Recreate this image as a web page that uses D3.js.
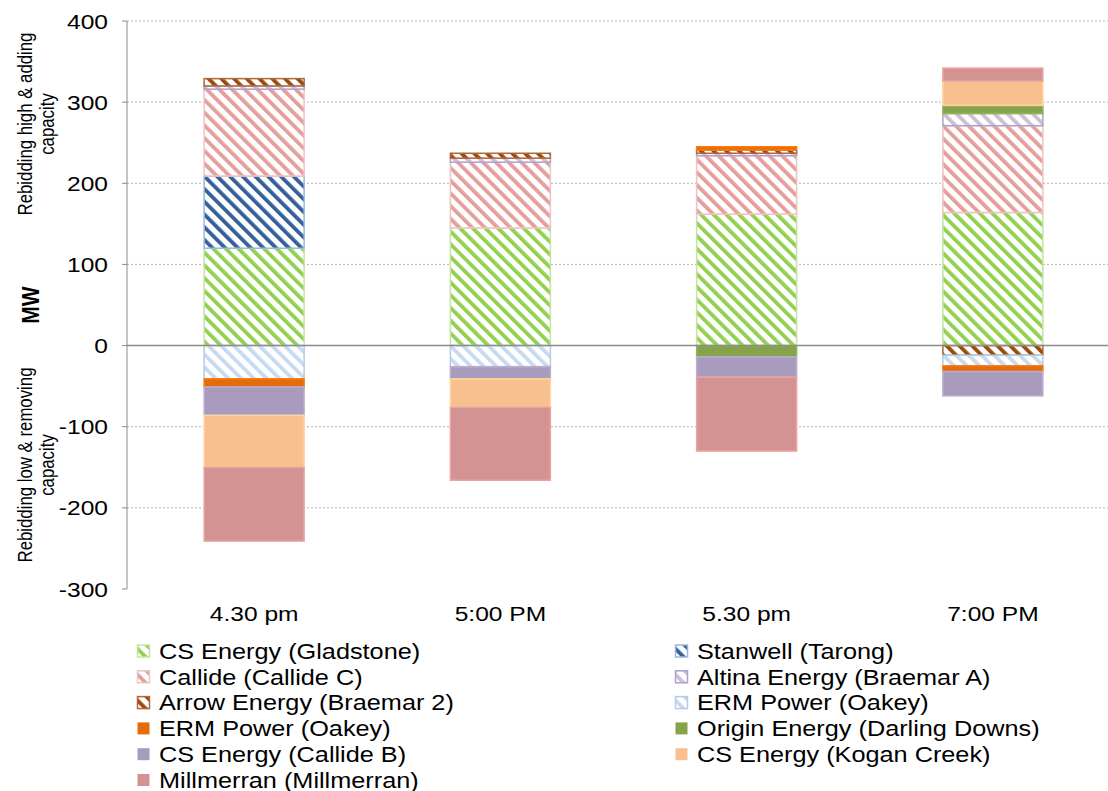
<!DOCTYPE html>
<html>
<head>
<meta charset="utf-8">
<script src="https://cdn.jsdelivr.net/npm/d3@7"></script>
<style>
  body { margin: 0; background: #fff; }
  svg { display: block; font-family: Arial, "Liberation Sans", sans-serif; }
</style>
</head>
<body>
<svg id="chart" width="1108" height="791"></svg>
<script>
const categories = ['4.30 pm', '5:00 PM', '5.30 pm', '7:00 PM']
const yTicks = [-300, -200, -100, 0, 100, 200, 300, 400]

// MW per period
const gladstone   = [120, 145, 162, 164]
const tarong      = [89, 0, 0, 0]
const callideC    = [107, 81, 72, 107]
const braemarA    = [4, 5, 3, 15]
const braemar2    = [9, 6, 4, -12]
const oakeyHatch  = [-41, -26, 0, -13]
const oakeySolid  = [-10, 0, 4, -7]
const darling     = [0, 0, -14, 10]
const callideB    = [-35, -15, -25, -30]
const kogan       = [-64, -35, 0, 30]
const millmerran  = [-91, -90, -91, 16]

const seriesNames = [
  'CS Energy (Gladstone)', 'Stanwell (Tarong)', 'Callide (Callide C)',
  'Altina Energy (Braemar A)', 'Arrow Energy (Braemar 2)', 'ERM Power (Oakey)',
  'ERM Power (Oakey)', 'Origin Energy (Darling Downs)', 'CS Energy (Callide B)',
  'CS Energy (Kogan Creek)', 'Millmerran (Millmerran)'
]
const seriesValues = [gladstone, tarong, callideC, braemarA, braemar2, oakeyHatch,
  oakeySolid, darling, callideB, kogan, millmerran]

// fill styles: hatch = striped pattern with a border
const styles = [
  { hatch: true, color: '#92d050', border: '#c6e2a6' },
  { hatch: true, color: '#34609a', border: '#9bb8dc' },
  { hatch: true, color: '#e49e9c', border: '#efc3c2' },
  { hatch: true, color: '#cbbfdc', border: '#b1a0cb' },
  { hatch: true, color: '#9a4a0c', border: '#b0683a' },
  { hatch: true, color: '#c7daf1', border: '#b6cbe6' },
  { hatch: false, color: '#e46c0a' },
  { hatch: false, color: '#86a24a' },
  { hatch: false, color: '#a99bbe' },
  { hatch: false, color: '#f9c08f' },
  { hatch: false, color: '#d39392' }
]

const sx = 1.17   // the original is a little wider than tall

const svg = d3.select('#chart')

const x = d3.scaleBand().domain(categories).range([131, 1116])
const y = d3.scaleLinear().domain([-300, 400]).range([589, 21])
const barW = 100
const plotLeft = 127, plotRight = 1108

// patterns
const defs = svg.append('defs')
styles.forEach((s, i) => {
  if (!s.hatch) return
  const p = defs.append('pattern')
    .attr('id', 'hatch' + i)
    .attr('patternUnits', 'userSpaceOnUse')
    .attr('width', 9).attr('height', 9)
    .attr('patternTransform', 'rotate(-45)')
  p.append('rect').attr('width', 9).attr('height', 9).attr('fill', '#fff')
  p.append('rect').attr('width', 3.8).attr('height', 9).attr('fill', s.color)
})
const fillOf = i => styles[i].hatch ? `url(#hatch${i})` : styles[i].color
const strokeOf = i => styles[i].hatch ? styles[i].border : d3.color(styles[i].color).brighter(0.3)

// gridlines
svg.append('g')
  .selectAll('line')
  .data(yTicks.filter(d => d !== 0 && d !== -300))
  .join('line')
  .attr('x1', plotLeft).attr('x2', plotRight)
  .attr('y1', d => y(d)).attr('y2', d => y(d))
  .attr('stroke', '#b4b4b4')
  .attr('stroke-dasharray', '2,2')

// y axis
svg.append('line')
  .attr('x1', plotLeft).attr('x2', plotLeft)
  .attr('y1', y(400)).attr('y2', y(-300))
  .attr('stroke', '#8c8c8c')
svg.append('g')
  .selectAll('line')
  .data(yTicks)
  .join('line')
  .attr('x1', plotLeft - 5).attr('x2', plotLeft)
  .attr('y1', d => y(d)).attr('y2', d => y(d))
  .attr('stroke', '#8c8c8c')

const tickLabels = svg.append('g')
  .selectAll('g')
  .data(yTicks)
  .join('g')
  .attr('transform', d => `translate(108,${y(d) + 7.5}) scale(${sx},1)`)
tickLabels.append('text')
  .attr('text-anchor', 'end')
  .attr('font-size', 21)
  .attr('fill', '#000')
  .text(d => d)

// stacked bars
const rows = categories.map((c, j) => {
  const r = { cat: c }
  seriesValues.forEach((v, i) => { r['s' + i] = v[j] })
  return r
})
const keys = seriesValues.map((v, i) => 's' + i)
const stacked = d3.stack().keys(keys).offset(d3.stackOffsetDiverging)(rows)

stacked.forEach((layer, i) => {
  svg.append('g')
    .selectAll('rect')
    .data(layer.filter(d => d[1] - d[0] !== 0))
    .join('rect')
    .attr('x', d => x(d.data.cat) + (x.bandwidth() - barW) / 2)
    .attr('width', barW)
    .attr('y', d => y(Math.max(d[0], d[1])))
    .attr('height', d => Math.abs(y(d[0]) - y(d[1])))
    .attr('fill', fillOf(i))
    .attr('stroke', strokeOf(i))
    .attr('stroke-width', 1.5)
})

// zero line
svg.append('line')
  .attr('x1', plotLeft).attr('x2', plotRight)
  .attr('y1', y(0)).attr('y2', y(0))
  .attr('stroke', '#8c8c8c')
  .attr('stroke-width', 1.5)

// x labels
svg.append('g')
  .selectAll('g')
  .data(categories)
  .join('g')
  .attr('transform', d => `translate(${x(d) + x.bandwidth() / 2},621) scale(${sx},1)`)
  .append('text')
  .attr('text-anchor', 'middle')
  .attr('font-size', 21)
  .text(d => d)

// axis titles
const rotText = (cx, cy, lines, size, weight, gap) => {
  const g = svg.append('g')
    .attr('transform', `translate(${cx},${cy}) scale(${sx},1) rotate(-90)`)
  lines.forEach((t, k) => {
    g.append('text')
      .attr('text-anchor', 'middle')
      .attr('y', k * (gap || size))
      .attr('font-size', size)
      .attr('font-weight', weight || 'normal')
      .text(t)
  })
}
rotText(39, 305, ['MW'], 21, 'bold')
rotText(32, 124, ['Rebidding high & adding', 'capacity'], 16.8, 'normal', 18.5)
rotText(32, 465, ['Rebidding low & removing', 'capacity'], 16.8, 'normal', 18.5)

// legend
const legend = svg.append('g')
const legendPos = seriesNames.map((n, i) => ({
  name: n, i,
  lx: i % 2 === 0 ? 137 : 675,
  ly: 651 + Math.floor(i / 2) * 25.8
}))
const item = legend.selectAll('g')
  .data(legendPos)
  .join('g')
  .attr('transform', d => `translate(${d.lx},${d.ly})`)
item.append('rect')
  .attr('x', 0.5).attr('y', -6)
  .attr('width', 12).attr('height', 12)
  .attr('fill', d => fillOf(d.i))
  .attr('stroke', d => styles[d.i].hatch ? styles[d.i].border : 'none')
  .attr('stroke-width', 1.5)
item.append('g')
  .attr('transform', `translate(22,7.8) scale(${sx},1)`)
  .append('text')
  .attr('font-size', 21.6)
  .text(d => d.name)
</script>
</body>
</html>
